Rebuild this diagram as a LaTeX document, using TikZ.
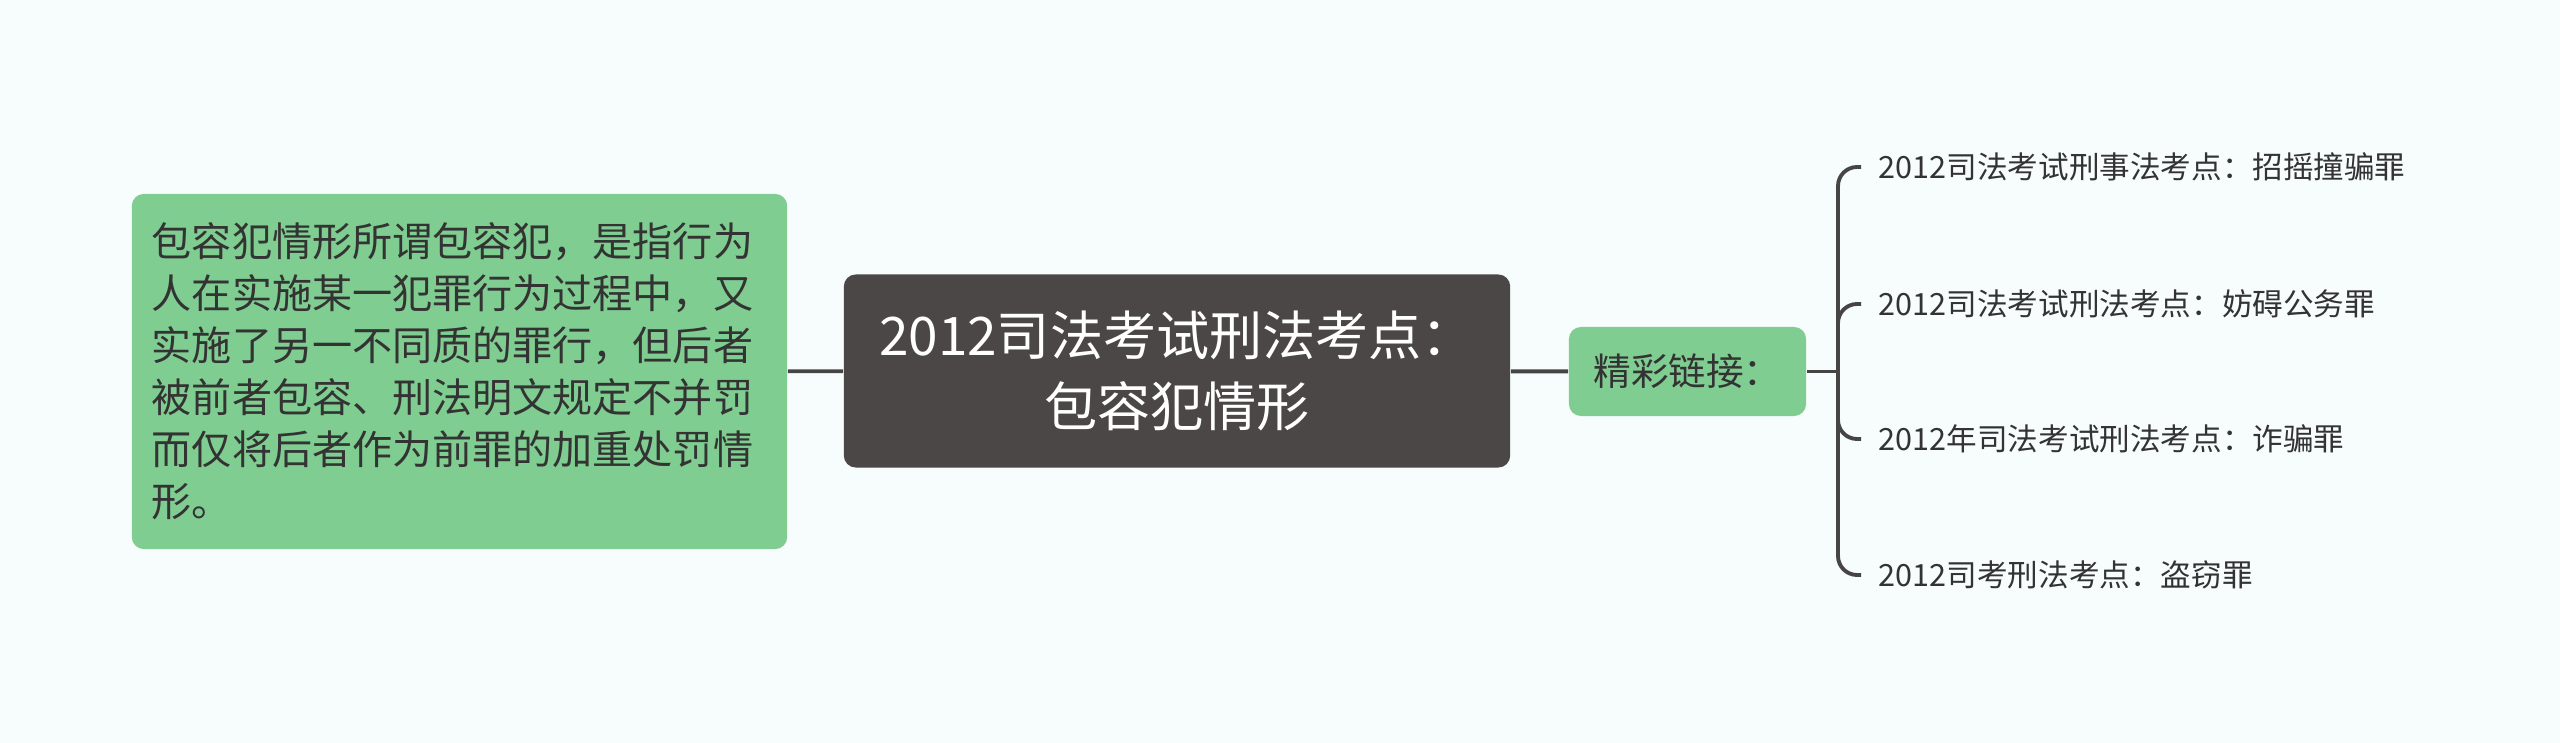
\documentclass[tikz,border=0pt]{standalone}
\usepackage{fontspec}
\setmainfont{Noto Sans CJK SC}
\usetikzlibrary{
  positioning,  % Function "of" (e.g. [right=of x])
  backgrounds,  % Predefined layer named "background"
}
\definecolor{paper}{HTML}{F7FDFD}
\definecolor{mintbox}{HTML}{7FCD91}
\definecolor{rootbox}{HTML}{4B4747}
\definecolor{ink}{HTML}{333333}
\definecolor{wire}{HTML}{474444}
\def\myfork{1838}
\def\mystub{1861}
\tikzset{
  semithick,
  branch/.style={
    draw=wire,
    line width=1.1pt
  },
  bracket/.style={
    branch,
    rounded corners=0.19cm
  },
  my root/.style={
    fill=rootbox,
    rounded corners=0.12cm,
    text=white,
    align=center,
    minimum width=6.66cm,
    minimum height=1.93cm,
    inner sep=0mm,
    font=\fontsize{15.1}{20}\selectfont
  },
  my note/.style={
    fill=mintbox,
    rounded corners=0.12cm,
    text=ink,
    align=left,
    text width=6.15cm,
    inner xsep=0.2cm,
    inner ysep=0mm,
    minimum height=3.55cm,
    font=\fontsize{11.4}{14.8}\selectfont
  },
  my hub/.style={
    fill=mintbox,
    rounded corners=0.12cm,
    text=ink,
    minimum width=2.37cm,
    minimum height=0.89cm,
    inner sep=0mm,
    font=\fontsize{10.7}{12}\selectfont
  },
  my leaf/.style={
    anchor=west,
    text=ink,
    inner sep=0.17cm,
    font=\fontsize{8.7}{10}\selectfont
  }
}

\begin{document}
\begin{tikzpicture}[x=0.01cm,y=-0.01cm]
\fill[paper] (0,0) rectangle (2560,743);
\useasboundingbox (0,0) rectangle (2560,743);
\node[my root] (root) at (1177,371) {2012司法考试刑法考点：\\包容犯情形};
\node[my note] (note) at (459.5,371.5) {包容犯情形所谓包容犯，是指行为\\
  人在实施某一犯罪行为过程中，又\\
  实施了另一不同质的罪行，但后者\\
  被前者包容、刑法明文规定不并罚\\
  而仅将后者作为前罪的加重处罚情\\
  形。};
\node[my hub] (hub) at (1687.5,371.5) {精彩链接：};
\coordinate (fork) at (\myfork,371.5);
\node[my leaf] (l1) at (\mystub,167) {2012司法考试刑事法考点：招摇撞骗罪};
\node[my leaf] (l2) at (\mystub,304) {2012司法考试刑法考点：妨碍公务罪};
\node[my leaf] (l3) at (\mystub,439) {2012年司法考试刑法考点：诈骗罪};
\node[my leaf] (l4) at (\mystub,575) {2012司考刑法考点：盗窃罪};
\path[branch]
  (note) edge (root)
  (root) edge (hub)
  (hub)  edge (fork);
\draw[bracket] (fork) |- (l1.west);
\draw[bracket] (fork) |- (l2.west);
\draw[bracket] (fork) |- (l3.west);
\draw[bracket] (fork) |- (l4.west);
\end{tikzpicture}
\end{document}
